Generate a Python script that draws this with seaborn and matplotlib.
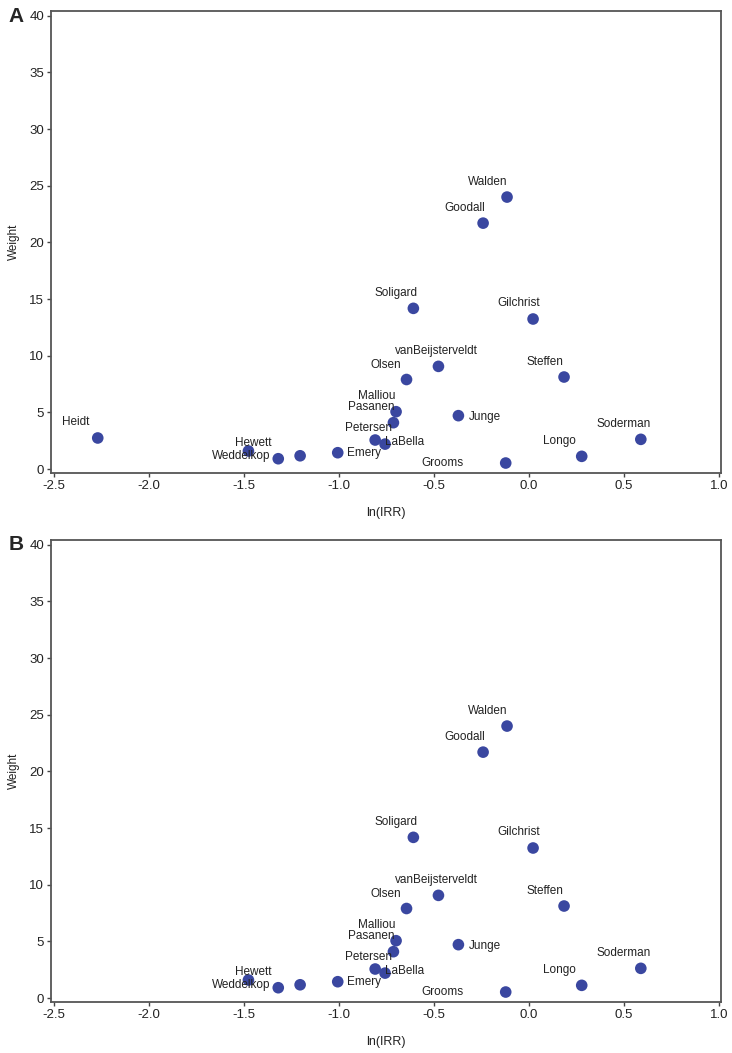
import numpy as np
import pandas as pd
import seaborn as sns
import matplotlib
matplotlib.use("Agg")
import matplotlib.pyplot as plt

# study names, ln(IRR) and weight
studies = ["Heidt", "Hewett", "Weddelkop", "", "Emery", "Petersen", "LaBella",
           "Pasanen", "Malliou", "Olsen", "Soligard", "vanBeijsterveldt", "Junge",
           "Goodall", "Walden", "Grooms", "Gilchrist", "Steffen", "Longo", "Soderman"]
ln_irr = [-2.27, -1.477, -1.32, -1.205, -1.007, -0.81, -0.758,
          -0.714, -0.70, -0.645, -0.609, -0.477, -0.372,
          -0.242, -0.116, -0.123, 0.021, 0.184, 0.277, 0.588]
weight = [2.74, 1.59, 0.91, 1.17, 1.44, 2.56, 2.2,
          4.09, 5.06, 7.9, 14.18, 9.06, 4.71,
          21.7, 24.0, 0.53, 13.24, 8.12, 1.12, 2.62]

x_ticks = [-2.5, -2.0, -1.5, -1.0, -0.5, 0.0, 0.5, 1.0]
y_ticks = [0, 5, 10, 15, 20, 25, 30, 35, 40]

# label offsets in pixels (dx, dy up)
offsets = {"Heidt": (-22, 16), "Hewett": (5, 8), "Weddelkop": (-37, 3),
           "Emery": (26, 0), "Petersen": (-7, 12), "LaBella": (20, 2),
           "Pasanen": (-22, 16), "Malliou": (-19, 16), "Olsen": (-21, 15),
           "Soligard": (-17, 15), "vanBeijsterveldt": (-2, 15), "Junge": (27, -1),
           "Goodall": (-18, 15), "Walden": (-19, 15), "Grooms": (-63, 0),
           "Gilchrist": (-14, 16), "Steffen": (-19, 15), "Longo": (-22, 15),
           "Soderman": (-17, 15)}

df = pd.DataFrame({"study": studies, "lnirr": ln_irr, "weight": weight})

sns.set_style("ticks")
plt.rcParams["font.family"] = ["Liberation Sans", "DejaVu Sans"]

fig = plt.figure(figsize=(7.32, 10.53), dpi=100)
W, H = 732, 1053
panels = [("A", 11, True), ("B", 540, False)]

for letter, top, with_heidt in panels:
    ax = fig.add_axes([51 / W, 1 - (top + 462) / H, 670 / W, 462 / H])
    d = df if with_heidt else df[df.study != "Heidt"]
    sns.scatterplot(data=d, x="lnirr", y="weight", ax=ax, s=70,
                    color="#3a47a0", edgecolor="none", zorder=3)
    for _, r in d.iterrows():
        if r.study == "":
            continue
        dx, dy = offsets[r.study]
        ax.annotate(r.study, (r.lnirr, r.weight), xytext=(dx, dy),
                    textcoords="offset pixels", ha="center", va="center",
                    fontsize=8.5, color="#222222", zorder=4)
    ax.set_xlim(-2.516, 1.01)
    ax.set_ylim(-0.35, 40.42)
    ax.set_xticks(x_ticks)
    ax.set_xticklabels([f"{t:.1f}" for t in x_ticks])
    ax.set_yticks(y_ticks)
    ax.tick_params(labelsize=9.5, length=3, width=1, color="#444444",
                   labelcolor="#222222", pad=2)
    for sp in ax.spines.values():
        sp.set_visible(True)
        sp.set_color("#555555")
        sp.set_linewidth(1.3)
    ax.set_xlabel("ln(IRR)", fontsize=9, color="#222222")
    ax.set_ylabel("Weight", fontsize=8.5, color="#222222")
    ax.xaxis.set_label_coords(0.5, -34 / 462)
    ax.yaxis.set_label_coords(-31 / 670, 0.5)
    fig.text(16 / W, 1 - (top + 5) / H, letter, fontsize=15, fontweight="bold",
             ha="center", va="center")

fig.savefig("out.png", dpi=100)
